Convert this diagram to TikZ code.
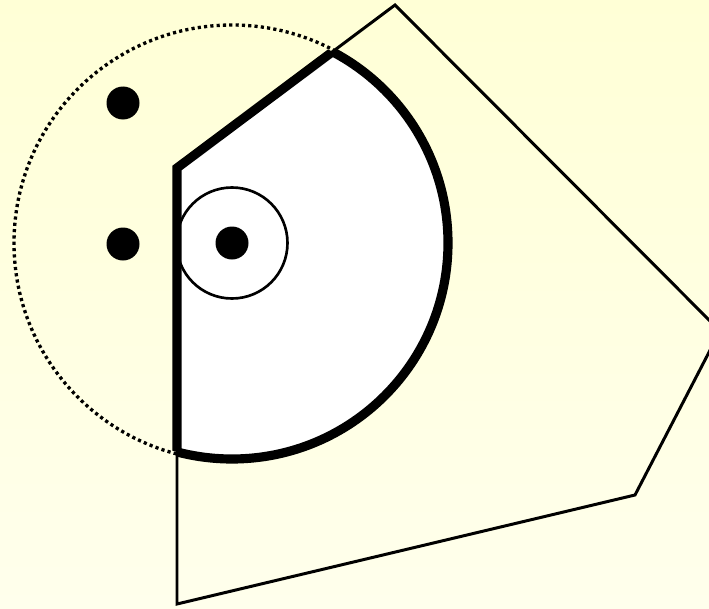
\documentclass[tikz,border=0pt]{standalone}
\usepackage{tikz}
\usetikzlibrary{calc}
\definecolor{paleyellow}{RGB}{255, 255, 214}
\definecolor{creamyellow}{RGB}{255, 255, 236}
\tikzset{
  regionline/.style={line width=1.7pt, black, line join=miter},
  sectorline/.style={line width=5.2pt, black, line join=miter},
  rangeline/.style={line width=1.9pt, black, dash pattern=on 1.8pt off 1.8pt},
  ringline/.style={line width=1.5pt, black},
  sensordot/.style={fill=black}
}

\begin{document}
\begin{tikzpicture}[x=0.02cm, y=-0.02cm]
    % --- CANVAS ---
    \useasboundingbox (0, 0) rectangle (709, 608);
    \shade[top color=paleyellow, bottom color=creamyellow] (0, 0) rectangle (709, 608);
    \clip (0, 0) rectangle (709, 608);

    % --- KEY POINTS ---
    \coordinate (center) at (232, 243);
    \coordinate (p1) at (177, 168);
    \coordinate (p2) at (395, 5);
    \coordinate (p3) at (720, 331);
    \coordinate (p4) at (635, 495);
    \coordinate (p5) at (177, 604);
    \def\sectorradius{216}

    % Dotted range circle
    \draw[rangeline] (center) circle (218);

    % White sector (disk inside region)
    \begin{scope}
        \clip (p1) -- (p2) -- (p3) -- (p4) -- (p5) -- cycle;
        \fill[white] (center) circle (\sectorradius);
        \draw[sectorline] (center) circle (\sectorradius);
    \end{scope}
    \begin{scope}
        \clip (center) circle (\sectorradius);
        \draw[sectorline] (p5) -- (p1) -- (p2);
    \end{scope}

    % Region outline
    \draw[regionline] (p1) -- (p2) -- (p3) -- (p4) -- (p5) -- cycle;

    % --- INNER RING AND DOTS ---
    \draw[ringline] (center) circle (55.5);
    \fill[sensordot] (center) circle (16.5);
    \fill[sensordot] (123, 103) circle (16.5);
    \fill[sensordot] (123, 244) circle (16.5);
\end{tikzpicture}
\end{document}
